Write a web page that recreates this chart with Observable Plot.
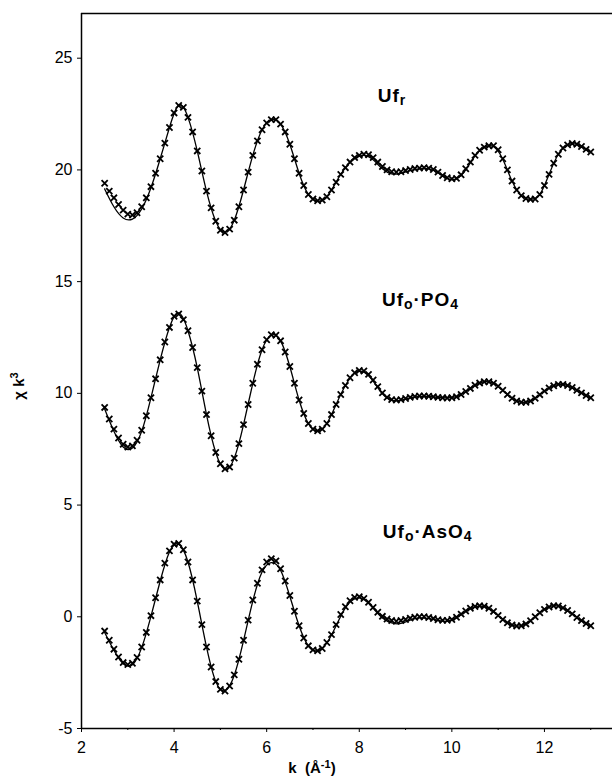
<!DOCTYPE html>
<html><head><meta charset="utf-8">
<script src="https://cdn.jsdelivr.net/npm/d3@7"></script>
<script src="https://cdn.jsdelivr.net/npm/@observablehq/plot@0.6"></script>
<style>
body{margin:0;background:#fff}
#chart{width:612px;height:777px}
</style>
</head><body><div id="chart"></div>
<script>
// measured k values (Å^-1)
const kObs = [2.5,2.6,2.7,2.8,2.9,3.0,3.1,3.2,3.3,3.4,3.5,3.6,3.7,3.8,3.9,4.0,4.1,4.2,4.3,4.4,4.5,4.6,4.7,4.8,4.9,5.0,5.1,5.2,5.3,5.4,5.5,5.6,5.7,5.8,5.9,6.0,6.1,6.2,6.3,6.4,6.5,6.6,6.7,6.8,6.9,7.0,7.1,7.2,7.3,7.4,7.5,7.6,7.7,7.8,7.9,8.0,8.1,8.2,8.3,8.4,8.5,8.6,8.7,8.8,8.9,9.0,9.1,9.2,9.3,9.4,9.5,9.6,9.7,9.8,9.9,10.0,10.1,10.2,10.3,10.4,10.5,10.6,10.7,10.8,10.9,11.0,11.1,11.2,11.3,11.4,11.5,11.6,11.7,11.8,11.9,12.0,12.1,12.2,12.3,12.4,12.5,12.6,12.7,12.8,12.9,13.0];
const ufrObs = [19.40,19.05,18.75,18.45,18.2,18.02,17.98,18.08,18.35,18.75,19.25,19.85,20.5,21.2,21.9,22.55,22.88,22.8,22.35,21.7,20.85,19.95,19.05,18.3,17.7,17.3,17.2,17.35,17.75,18.35,19.1,19.9,20.65,21.3,21.8,22.1,22.25,22.25,22.05,21.7,21.15,20.5,19.85,19.3,18.9,18.7,18.62,18.65,18.8,19.1,19.45,19.8,20.1,20.35,20.55,20.65,20.7,20.68,20.55,20.35,20.15,20.0,19.92,19.9,19.92,19.97,20.02,20.06,20.08,20.1,20.08,20.02,19.9,19.75,19.65,19.6,19.62,19.78,20.05,20.35,20.65,20.88,21.02,21.08,21.08,20.9,20.5,20.0,19.5,19.1,18.85,18.72,18.68,18.7,18.9,19.3,19.8,20.3,20.7,20.98,21.12,21.18,21.15,21.05,20.92,20.8];
const po4Obs = [9.37,8.85,8.4,8.0,7.72,7.6,7.65,7.9,8.35,9.0,9.8,10.65,11.5,12.3,12.95,13.45,13.55,13.3,12.8,12.05,11.15,10.1,9.05,8.1,7.35,6.85,6.62,6.7,7.1,7.75,8.6,9.5,10.45,11.3,11.95,12.4,12.62,12.6,12.35,11.85,11.2,10.45,9.7,9.1,8.65,8.4,8.32,8.4,8.65,9.05,9.5,9.95,10.35,10.7,10.92,11.02,11.0,10.85,10.6,10.3,10.02,9.82,9.72,9.7,9.72,9.77,9.82,9.86,9.88,9.88,9.87,9.85,9.82,9.8,9.79,9.8,9.85,9.95,10.08,10.22,10.36,10.46,10.52,10.52,10.45,10.32,10.14,9.95,9.78,9.66,9.6,9.6,9.66,9.78,9.94,10.1,10.24,10.34,10.4,10.4,10.35,10.26,10.14,10.02,9.9,9.8];
const aso4Obs = [-0.64,-1.05,-1.45,-1.8,-2.05,-2.14,-2.08,-1.82,-1.35,-0.7,0.05,0.85,1.65,2.4,2.95,3.25,3.28,3.0,2.45,1.65,0.7,-0.35,-1.35,-2.25,-2.9,-3.25,-3.32,-3.1,-2.6,-1.9,-1.05,-0.15,0.75,1.5,2.1,2.45,2.6,2.5,2.15,1.6,0.95,0.25,-0.4,-0.95,-1.3,-1.48,-1.52,-1.42,-1.15,-0.8,-0.35,0.1,0.45,0.72,0.87,0.9,0.82,0.65,0.42,0.2,0.02,-0.1,-0.17,-0.2,-0.17,-0.12,-0.06,-0.02,0.0,0.0,-0.03,-0.08,-0.13,-0.16,-0.16,-0.12,-0.02,0.12,0.26,0.38,0.46,0.49,0.47,0.38,0.24,0.06,-0.12,-0.27,-0.37,-0.41,-0.4,-0.32,-0.18,0.0,0.18,0.33,0.44,0.49,0.48,0.4,0.28,0.13,-0.03,-0.17,-0.3,-0.4];

// fitted curves
const kFit = [2.5,2.7,2.9,3.1,3.3,3.5,3.7,3.9,4.1,4.3,4.5,4.7,4.9,5.1,5.3,5.5,5.7,5.9,6.1,6.3,6.5,6.7,6.9,7.1,7.3,7.5,7.7,7.9,8.1,8.3,8.5,8.7,8.9,9.1,9.3,9.5,9.7,9.9,10.1,10.3,10.5,10.7,10.9,11.1,11.3,11.5,11.7,11.9,12.1,12.3,12.5,12.7,12.9,13.0];
const ufrFit = [19.15,18.35,17.85,17.8,18.25,19.2,20.5,21.9,22.9,22.35,20.85,19.05,17.7,17.2,17.75,19.1,20.65,21.8,22.25,22.05,21.15,19.85,18.9,18.6,18.8,19.45,20.1,20.5,20.65,20.45,20.05,19.82,19.85,19.97,20.05,20.05,19.88,19.62,19.6,20.0,20.62,21.0,21.05,20.48,19.5,18.85,18.68,18.9,19.8,20.7,21.12,21.15,20.92,20.8];
const po4Fit = [9.3,8.3,7.6,7.55,8.3,9.8,11.5,12.95,13.6,12.8,11.15,9.05,7.35,6.6,7.1,8.6,10.45,11.95,12.6,12.35,11.2,9.7,8.65,8.32,8.65,9.5,10.35,10.9,10.95,10.55,9.98,9.7,9.7,9.8,9.86,9.86,9.82,9.8,9.85,10.08,10.36,10.52,10.45,10.14,9.78,9.6,9.66,9.94,10.24,10.4,10.35,10.14,9.9,9.8];
const aso4Fit = [-0.7,-1.5,-2.1,-2.15,-1.38,0.02,1.6,2.9,3.25,2.45,0.7,-1.35,-2.9,-3.3,-2.62,-1.07,0.7,2.0,2.42,2.08,0.92,-0.4,-1.3,-1.52,-1.17,-0.4,0.4,0.8,0.78,0.38,-0.05,-0.27,-0.3,-0.15,-0.05,-0.08,-0.16,-0.2,-0.05,0.24,0.44,0.46,0.23,-0.12,-0.37,-0.4,-0.18,0.18,0.44,0.48,0.28,-0.03,-0.3,-0.4];

const seriesNames = ["Ufr","Ufo·PO4","Ufo·AsO4"];
// label anchors (k, chi k^3) and parts [text, isSub]
const labelK = [8.41, 8.5, 8.52];
const labelY = [23.03, 13.87, 3.5];
const labelParts = [
  [["Uf",false],["r",true]],
  [["Uf",false],["o",true],["·PO",false],["4",true]],
  [["Uf",false],["o",true],["·AsO",false],["4",true]]
];

const xDomain = [2, 13.47];
const yDomain = [-5, 27];
const xTicks = [2,4,6,8,10,12];
const xMinor = [3,5,7,9,11,13];
const yTicks = [-5,0,5,10,15,20,25];

const obsSets = [ufrObs, po4Obs, aso4Obs];
const fitSets = [ufrFit, po4Fit, aso4Fit];
const obs = [], fit = [];
obsSets.forEach((arr, s) => arr.forEach((v, i) => obs.push({s: seriesNames[s], k: kObs[i], v})));
fitSets.forEach((arr, s) => arr.forEach((v, i) => fit.push({s: seriesNames[s], k: kFit[i], v})));

const font = "'Liberation Sans', Arial, Helvetica, sans-serif";
const plot = Plot.plot({
  width: 612, height: 777,
  marginLeft: 81, marginRight: 0, marginTop: 13, marginBottom: 49,
  x: {domain: xDomain},
  y: {domain: yDomain},
  style: {fontFamily: font, fontSize: "16px", color: "#000", background: "#fff", overflow: "visible"},
  marks: [
    Plot.axisY({ticks: yTicks, tickSize: 4, tickPadding: 5, tickFormat: d => String(d), label: null, fontSize: 16}),
    Plot.axisX({ticks: xTicks, tickSize: 4, tickPadding: 9, tickFormat: d => String(d), label: null, fontSize: 16}),
    Plot.axisX({ticks: xMinor, tickSize: 2, tickFormat: () => "", label: null}),
    Plot.ruleX([xDomain[0]], {stroke: "#000", strokeWidth: 1.5}),
    Plot.ruleY(yDomain, {stroke: "#000", strokeWidth: 1.5}),
    Plot.line(fit, {x: "k", y: "v", z: "s", curve: "natural", stroke: "#000", strokeWidth: 1.3}),
    Plot.dot(obs, {x: "k", y: "v", symbol: "times", r: 2.9, stroke: "#000", strokeWidth: 1.8})
  ]
});
document.getElementById("chart").appendChild(plot);

const svg = d3.select(plot);
const xs = plot.scale("x"), ys = plot.scale("y");
labelParts.forEach((parts, i) => {
  const t = svg.append("text")
    .attr("x", xs.apply(labelK[i])).attr("y", ys.apply(labelY[i]))
    .attr("text-anchor", "start")
    .attr("font-family", font).attr("font-weight", "bold").attr("font-size", 19)
    .attr("letter-spacing", 1).attr("fill", "#000");
  parts.forEach(([txt, sub], j) => {
    const ts = t.append("tspan").text(txt);
    if (sub) ts.attr("font-size", 14).attr("dy", 3);
    else if (j > 0) ts.attr("dy", -3);
  });
});
// y axis title
const yt = svg.append("text")
  .attr("transform", "translate(24,386) rotate(-90)")
  .attr("text-anchor", "middle")
  .attr("font-family", font).attr("font-weight", "bold").attr("font-size", 15).attr("fill", "#000");
yt.append("tspan").text("χ k");
yt.append("tspan").text("3").attr("font-size", 11).attr("dy", -6);
// x axis title
const xt = svg.append("text")
  .attr("x", 312).attr("y", 773).attr("text-anchor", "middle")
  .attr("font-family", font).attr("font-weight", "bold").attr("font-size", 15).attr("fill", "#000")
  .attr("xml:space", "preserve");
xt.append("tspan").text("k  (Å");
xt.append("tspan").text("-1").attr("font-size", 11).attr("dy", -5);
xt.append("tspan").text(")").attr("dy", 5);
</script>
</body></html>
